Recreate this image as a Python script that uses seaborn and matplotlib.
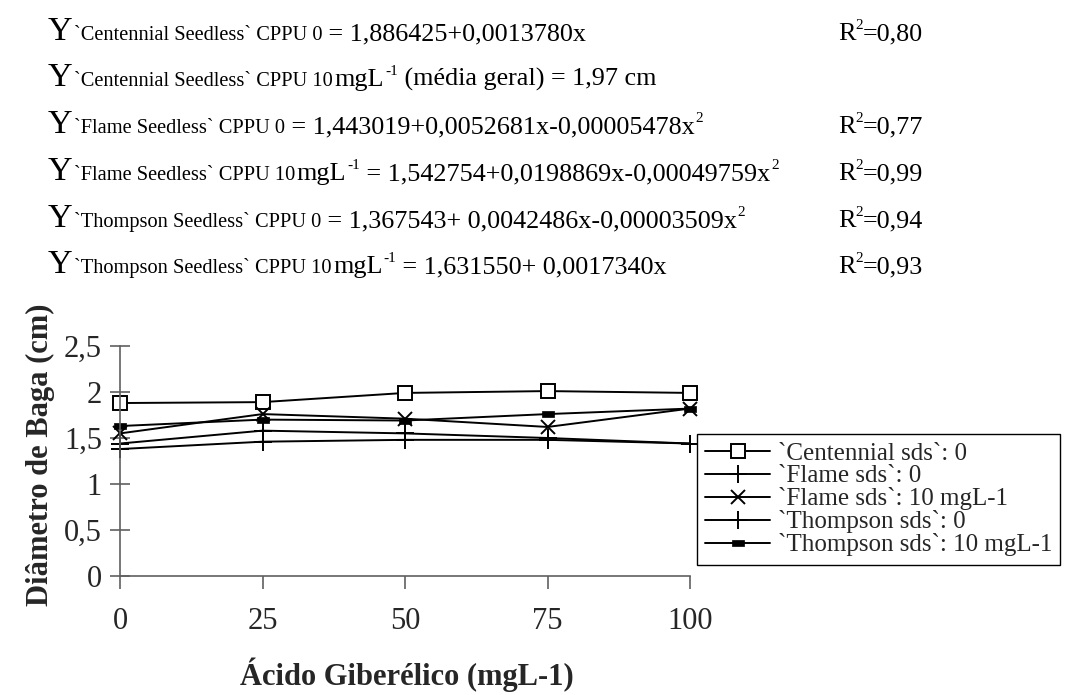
import numpy as np
import pandas as pd
import matplotlib
matplotlib.use("Agg")
import matplotlib.pyplot as plt
import seaborn as sns
from matplotlib.path import Path

# ---------------- data ----------------
doses = [0, 25, 50, 75, 100]
centennial_0 = [1.88, 1.89, 1.99, 2.01, 1.99]
flame_0 = [1.44, 1.58, 1.55, 1.50, 1.44]
flame_10 = [1.55, 1.76, 1.71, 1.62, 1.82]
thompson_0 = [1.38, 1.46, 1.48, 1.48, 1.44]
thompson_10 = [1.63, 1.70, 1.69, 1.76, 1.82]

series_labels = ["`Centennial sds`: 0", "`Flame sds`: 0", "`Flame sds`: 10 mgL-1",
                 "`Thompson sds`: 0", "`Thompson sds`: 10 mgL-1"]
series_values = [centennial_0, flame_0, flame_10, thompson_0, thompson_10]

y_ticks = [0, 0.5, 1, 1.5, 2, 2.5]
y_ticklabels = ["0", "0,5", "1", "1,5", "2", "2,5"]
x_ticks = [0, 25, 50, 75, 100]
x_ticklabels = ["0", "25", "50", "75", "100"]

x_title = "Ácido Giberélico (mgL-1)"
y_title = "Diâmetro de Baga (cm)"

eq_subjects = ["`Centennial Seedless` CPPU 0", "`Centennial Seedless` CPPU 10",
               "`Flame Seedless` CPPU 0", "`Flame Seedless` CPPU 10",
               "`Thompson Seedless` CPPU 0", "`Thompson Seedless` CPPU 10"]
eq_unit = [False, True, False, True, False, True]
eq_bodies = [" = 1,886425+0,0013780x", " (média geral) = 1,97 cm",
             " = 1,443019+0,0052681x-0,00005478x", " = 1,542754+0,0198869x-0,00049759x",
             " = 1,367543+ 0,0042486x-0,00003509x", " = 1,631550+ 0,0017340x"]
eq_squared = [False, False, True, True, True, False]
eq_r2 = ["0,80", None, "0,77", "0,99", "0,94", "0,93"]

# ---------------- style ----------------
sns.set_theme(style="white")
plt.rcParams["font.family"] = ["Liberation Serif", "DejaVu Serif"]

W, H = 1067, 695
fig = plt.figure(figsize=(W / 100, H / 100), dpi=100)
fig.patch.set_facecolor("white")

ax_l, ax_r, ax_t, ax_b = 120, 690, 346, 576
ax = fig.add_axes([ax_l / W, (H - ax_b) / H, (ax_r - ax_l) / W, (ax_b - ax_t) / H])
ax.set_facecolor("white")

rect = Path([(-1, -0.55), (1, -0.55), (1, 0.55), (-1, 0.55), (-1, -0.55)],
            [Path.MOVETO, Path.LINETO, Path.LINETO, Path.LINETO, Path.CLOSEPOLY])
styles = [
    dict(marker="s", markersize=10, markerfacecolor="white", markeredgecolor="black", markeredgewidth=1.4),
    dict(marker="+", markersize=13, markeredgecolor="black", markeredgewidth=1.4),
    dict(marker="x", markersize=10, markeredgecolor="black", markeredgewidth=1.4),
    dict(marker="+", markersize=13, markeredgecolor="black", markeredgewidth=1.4),
    dict(marker=rect, markersize=9, markerfacecolor="black", markeredgecolor="black", markeredgewidth=0.5),
]

for lab, vals, st in zip(series_labels, series_values, styles):
    df = pd.DataFrame({"dose": doses, "diam": vals})
    sns.lineplot(data=df, x="dose", y="diam", ax=ax, color="black", linewidth=1.4,
                 label=lab, clip_on=False, **st)

ax.set_xlim(0, 100)
ax.set_ylim(0, 2.5)
ax.set_xticks(x_ticks)
ax.set_xticklabels(x_ticklabels)
ax.set_yticks(y_ticks)
ax.set_yticklabels(y_ticklabels)
for s in ["top", "right"]:
    ax.spines[s].set_visible(False)
for s in ["left", "bottom"]:
    ax.spines[s].set_color("#606060")
    ax.spines[s].set_linewidth(1.2)
ax.tick_params(axis="y", direction="inout", length=14, width=1.2, color="#606060",
               labelsize=22, pad=6, left=True)
ax.tick_params(axis="x", direction="out", length=9, width=1.2, color="#606060",
               labelsize=22, pad=13, bottom=True)
ax.grid(False)

ax.set_xlabel(x_title, fontsize=22, fontweight="bold")
ax.set_ylabel(y_title, fontsize=22, fontweight="bold")
ax.xaxis.label.set_va("center")
ax.xaxis.set_label_coords((407 - ax_l) / (ax_r - ax_l), (ax_b - 675) / (ax_b - ax_t))
ax.yaxis.label.set_va("center")
ax.yaxis.set_label_coords((40 - ax_l) / (ax_r - ax_l), (ax_b - 455) / (ax_b - ax_t))

leg = ax.legend(loc="upper left", bbox_to_anchor=(697 / W, 1 - 434 / H),
                bbox_transform=fig.transFigure, fontsize=18, frameon=True,
                fancybox=False, edgecolor="black", framealpha=1,
                handlelength=2.6, handletextpad=0.3, labelspacing=0.0,
                borderpad=0.33, borderaxespad=0)
leg.get_frame().set_linewidth(1.0)

# ---------------- equations ----------------
renderer = fig.canvas.get_renderer()


def put(x, ybase, s, size):
    t = fig.text(x / W, 1 - ybase / H, s, fontsize=size, va="baseline", ha="left",
                 color="black")
    bb = t.get_window_extent(renderer)
    return bb.x1


baselines = [40, 86, 133, 180, 227, 273]
Y_SIZE, SUB_SIZE, MAIN_SIZE, SUP_SIZE = 24.5, 14.7, 18.8, 11
RAISE = 11
for i, yb in enumerate(baselines):
    x = put(48, yb, "Y", Y_SIZE)
    x = put(x + 1, yb, eq_subjects[i], SUB_SIZE)
    if eq_unit[i]:
        x = put(x + 2, yb, "mgL", MAIN_SIZE)
        x = put(x + 1, yb - RAISE, "-1", SUP_SIZE)
    x = put(x, yb, eq_bodies[i], MAIN_SIZE)
    if eq_squared[i]:
        x = put(x + 1, yb - RAISE, "2", SUP_SIZE)
    if eq_r2[i] is not None:
        x = put(838, yb, "R", MAIN_SIZE)
        x = put(x, yb - RAISE, "2", SUP_SIZE)
        put(x, yb, "=" + eq_r2[i], MAIN_SIZE)

fig.savefig("out.png", dpi=100, facecolor="white")
